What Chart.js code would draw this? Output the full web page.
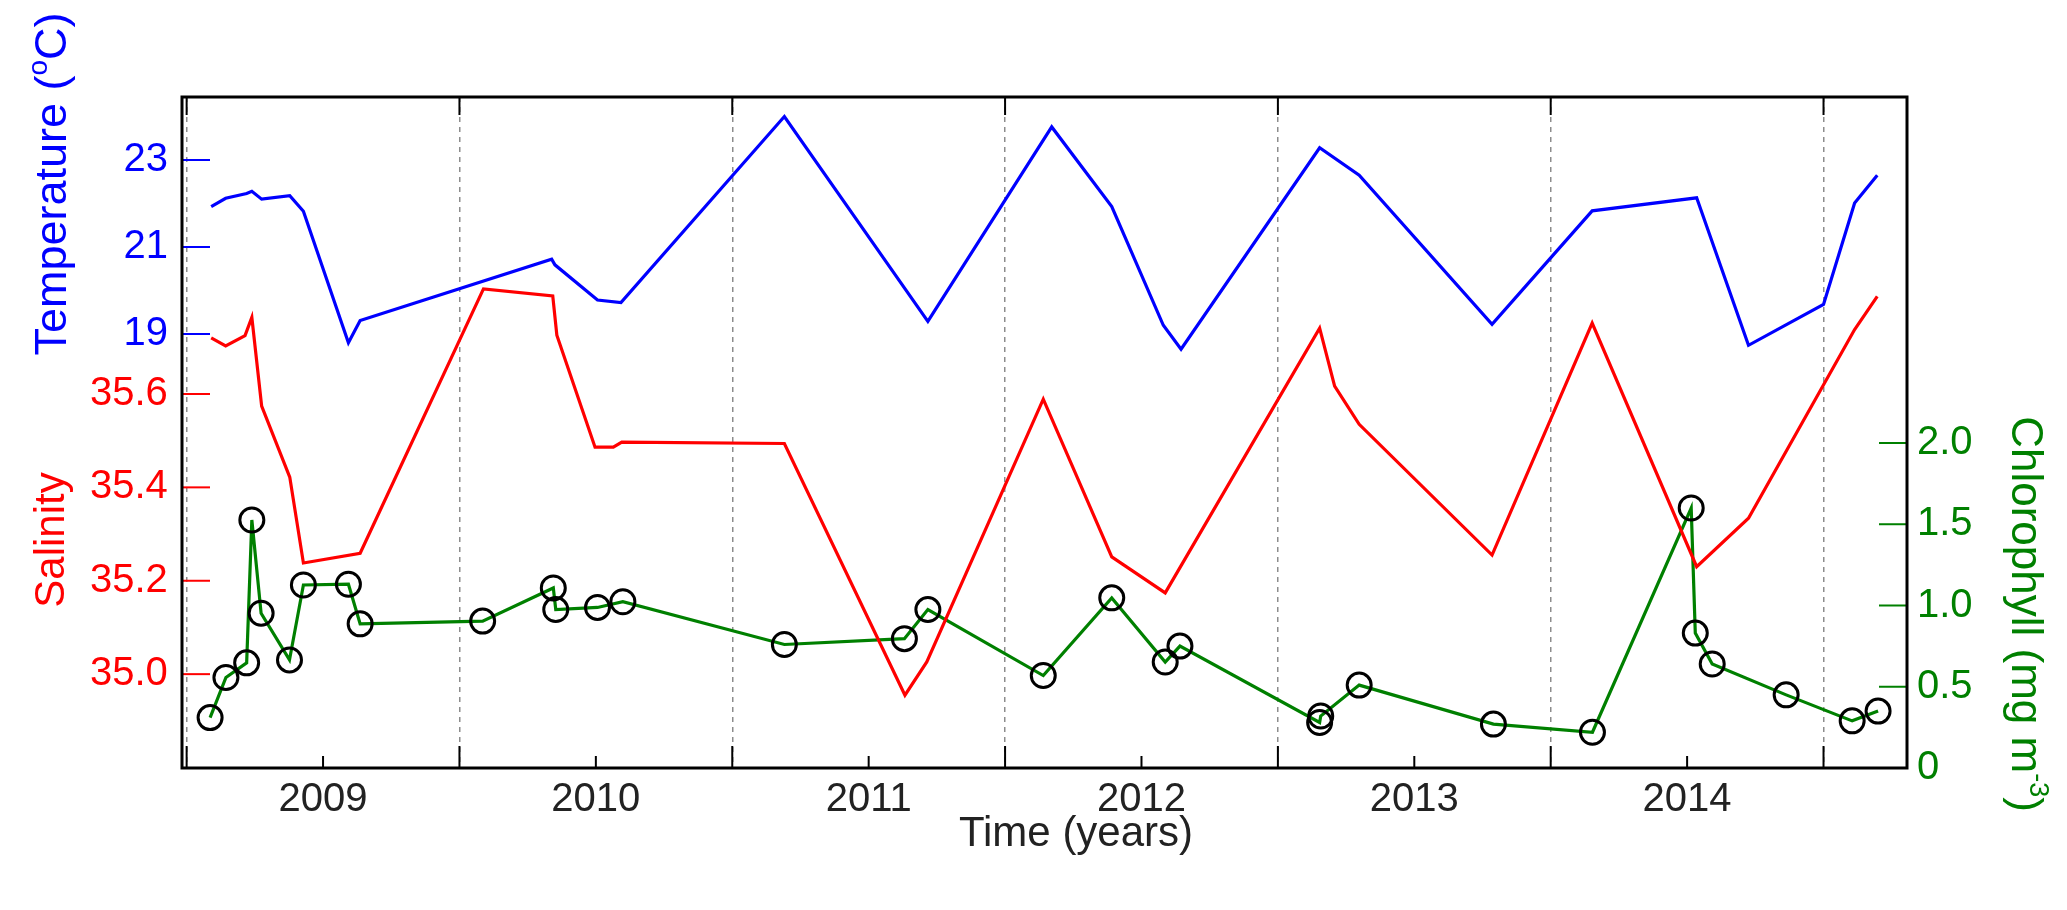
<!DOCTYPE html>
<html>
<head>
<meta charset="utf-8">
<script src="https://cdn.jsdelivr.net/npm/chart.js@4.4.0/dist/chart.umd.min.js"></script>
<style>
	html, body { margin: 0; padding: 0; background: #fff; }
	#wrap { width: 2067px; height: 910px; }
</style>
</head>
<body>
<div id="wrap"><canvas id="chart" width="2067" height="910"></canvas></div>
<script>
!(function(){
	'use strict';

	// time in decimal years
	var tempYears  = [2008.59, 2008.643, 2008.72, 2008.739, 2008.775, 2008.878, 2008.928, 2009.093, 2009.136, 2009.838, 2009.85, 2010.006, 2010.092, 2010.691, 2011.217, 2011.671, 2011.891, 2012.08, 2012.145, 2012.653, 2012.798, 2013.285, 2013.652, 2014.035, 2014.225, 2014.5, 2014.614, 2014.697];
	var tempValues = [21.93, 22.12, 22.23, 22.28, 22.10, 22.18, 21.82, 18.80, 19.31, 20.72, 20.59, 19.78, 19.72, 24.00, 19.29, 23.76, 21.93, 19.20, 18.65, 23.28, 22.65, 19.22, 21.83, 22.13, 18.74, 19.68, 22.01, 22.65];

	var salYears  = [2008.59, 2008.643, 2008.714, 2008.739, 2008.775, 2008.878, 2008.928, 2009.136, 2009.588, 2009.842, 2009.857, 2009.997, 2010.064, 2010.095, 2010.691, 2011.133, 2011.213, 2011.64, 2011.891, 2012.087, 2012.653, 2012.708, 2012.798, 2013.285, 2013.652, 2014.035, 2014.225, 2014.614, 2014.697];
	var salValues = [35.72, 35.703, 35.725, 35.764, 35.574, 35.422, 35.238, 35.259, 35.825, 35.81, 35.726, 35.486, 35.486, 35.497, 35.494, 34.955, 35.026, 35.589, 35.251, 35.174, 35.741, 35.617, 35.535, 35.255, 35.752, 35.23, 35.334, 35.738, 35.809];

	var chlYears  = [2008.586, 2008.644, 2008.72, 2008.739, 2008.773, 2008.877, 2008.928, 2009.093, 2009.136, 2009.585, 2009.844, 2009.853, 2010.006, 2010.099, 2010.691, 2011.131, 2011.217, 2011.64, 2011.891, 2012.087, 2012.141, 2012.653, 2012.657, 2012.798, 2013.29, 2013.653, 2014.015, 2014.03, 2014.092, 2014.363, 2014.605, 2014.7];
	var chlValues = [0.31, 0.557, 0.647, 1.526, 0.952, 0.665, 1.126, 1.131, 0.887, 0.904, 1.108, 0.975, 0.988, 1.023, 0.76, 0.796, 0.975, 0.569, 1.047, 0.652, 0.75, 0.28, 0.32, 0.51, 0.27, 0.22, 1.6, 0.83, 0.64, 0.45, 0.29, 0.35];

	var yearTicks = [2008.5, 2009, 2009.5, 2010, 2010.5, 2011, 2011.5, 2012, 2012.5, 2013, 2013.5, 2014, 2014.5];
	var tempTicks = [19, 21, 23];
	var salTicks  = [35.0, 35.2, 35.4, 35.6];
	var chlTicks  = [0, 0.5, 1.0, 1.5, 2.0];

	var FONT = '"Liberation Sans", Arial, Helvetica, sans-serif';
	var BLUE = '#0000ff', RED = '#ff0000', GREEN = '#008000';

	function pairs(xs, ys){
		var out = [];
		for (var i = 0; i < xs.length; i++) out.push({ x: xs[i], y: ys[i] });
		return out;
	}
	function setTicks(list){
		return function(scale){ scale.ticks = list.map(function(v){ return { value: v }; }); };
	}

	// draws a label made of normal and superscript parts, centred on 0 along x
	function richText(ctx, parts, size){
		var supSize = Math.round(size * 0.62), w = 0, i;
		for (i = 0; i < parts.length; i++) {
			ctx.font = (parts[i].sup ? supSize : size) + 'px ' + FONT;
			parts[i].w = ctx.measureText(parts[i].t).width;
			w += parts[i].w;
		}
		var x = -w / 2;
		ctx.textAlign = 'left';
		ctx.textBaseline = 'alphabetic';
		for (i = 0; i < parts.length; i++) {
			ctx.font = (parts[i].sup ? supSize : size) + 'px ' + FONT;
			ctx.fillText(parts[i].t, x, parts[i].sup ? -size * 0.42 : 0);
			x += parts[i].w;
		}
	}

	var framePlugin = {
		id: 'frame',
		afterDraw: function(chart){
			var ctx = chart.ctx, a = chart.chartArea, s = chart.scales;
			ctx.save();
			ctx.lineCap = 'butt';

			// inward tick marks
			ctx.lineWidth = 2;
			ctx.strokeStyle = BLUE;
			tempTicks.forEach(function(v){
				var y = s.yT.getPixelForValue(v);
				ctx.beginPath(); ctx.moveTo(a.left, y); ctx.lineTo(a.left + 28, y); ctx.stroke();
			});
			ctx.strokeStyle = RED;
			salTicks.forEach(function(v){
				var y = s.yS.getPixelForValue(v);
				ctx.beginPath(); ctx.moveTo(a.left, y); ctx.lineTo(a.left + 28, y); ctx.stroke();
			});
			ctx.strokeStyle = GREEN;
			chlTicks.forEach(function(v){
				if (v === 0) return;
				var y = s.yC.getPixelForValue(v);
				ctx.beginPath(); ctx.moveTo(a.right - 28, y); ctx.lineTo(a.right, y); ctx.stroke();
			});
			ctx.strokeStyle = '#000';
			yearTicks.forEach(function(v){
				var x = s.x.getPixelForValue(v);
				var half = v % 1 !== 0;
				ctx.beginPath(); ctx.moveTo(x, a.bottom); ctx.lineTo(x, a.bottom - (half ? 22 : 12)); ctx.stroke();
				if (half) { ctx.beginPath(); ctx.moveTo(x, a.top); ctx.lineTo(x, a.top + 18); ctx.stroke(); }
			});

			// box
			ctx.lineWidth = 3;
			ctx.strokeStyle = '#000';
			ctx.strokeRect(a.left, a.top, a.right - a.left, a.bottom - a.top);

			// axis titles
			ctx.fillStyle = BLUE;
			ctx.save(); ctx.translate(66, 184); ctx.rotate(-Math.PI / 2);
			richText(ctx, [{ t: 'Temperature (' }, { t: 'o', sup: true }, { t: 'C)' }], 45);
			ctx.restore();

			ctx.fillStyle = RED;
			ctx.save(); ctx.translate(64, 540); ctx.rotate(-Math.PI / 2);
			richText(ctx, [{ t: 'Salinity' }], 42);
			ctx.restore();

			ctx.fillStyle = GREEN;
			ctx.save(); ctx.translate(2012, 614); ctx.rotate(Math.PI / 2);
			richText(ctx, [{ t: 'Chlorophyll (mg m' }, { t: '-3', sup: true }, { t: ')' }], 44);
			ctx.restore();

			ctx.fillStyle = '#222';
			ctx.save(); ctx.translate(1076, 846);
			richText(ctx, [{ t: 'Time (years)' }], 42);
			ctx.restore();

			ctx.restore();
		}
	};

	var tickFont = { family: FONT, size: 40 };

	new Chart(document.getElementById('chart').getContext('2d'), {
		type: 'line',
		data: {
			datasets: [{
				label: 'Temperature',
				data: pairs(tempYears, tempValues),
				yAxisID: 'yT',
				borderColor: BLUE,
				borderWidth: 3.2,
				pointRadius: 0,
				tension: 0
			}, {
				label: 'Salinity',
				data: pairs(salYears, salValues),
				yAxisID: 'yS',
				borderColor: RED,
				borderWidth: 3.2,
				pointRadius: 0,
				tension: 0
			}, {
				label: 'Chlorophyll',
				data: pairs(chlYears, chlValues),
				yAxisID: 'yC',
				borderColor: GREEN,
				borderWidth: 3.2,
				pointRadius: 12,
				pointBorderWidth: 3,
				pointBorderColor: '#000',
				pointBackgroundColor: 'rgba(0,0,0,0)',
				tension: 0
			}]
		},
		options: {
			responsive: false,
			animation: false,
			devicePixelRatio: 1,
			layout: { padding: { top: 97, left: 0, right: 0, bottom: 0 } },
			plugins: { legend: { display: false }, tooltip: { enabled: false } },
			scales: {
				x: {
					type: 'linear',
					min: 2008.483,
					max: 2014.806,
					afterBuildTicks: setTicks(yearTicks),
					afterFit: function(s){ s.height = 142; },
					grid: {
						drawTicks: false,
						lineWidth: 1.5,
						color: function(c){ return (c.tick && c.tick.value % 1 !== 0) ? '#8c8c8c' : 'rgba(0,0,0,0)'; }
					},
					border: { display: false, dash: [5, 5] },
					ticks: {
						color: '#222',
						font: tickFont,
						padding: 8,
						maxRotation: 0,
						autoSkip: false,
						callback: function(v){ return v % 1 === 0 ? String(v) : ''; }
					}
				},
				yT: {
					position: 'left',
					weight: 1,
					min: 9.023,
					max: 24.448,
					afterBuildTicks: setTicks(tempTicks),
					afterFit: function(s){ s.width = 182; },
					grid: { drawOnChartArea: false, drawTicks: false },
					border: { display: false },
					ticks: { color: BLUE, font: tickFont, padding: 14, callback: function(v){ return String(v); } }
				},
				yS: {
					// zero-width axis sharing the left column; mirrored so its labels are not clipped
					position: 'left',
					weight: 0,
					min: 34.799,
					max: 36.236,
					afterBuildTicks: setTicks(salTicks),
					afterFit: function(s){ s.width = 0; },
					grid: { drawOnChartArea: false, drawTicks: false },
					border: { display: false },
					ticks: { color: RED, font: tickFont, mirror: true, crossAlign: 'near', padding: -92, callback: function(v){ return v.toFixed(1); } }
				},
				yC: {
					position: 'right',
					min: 0,
					max: 4.129,
					afterBuildTicks: setTicks(chlTicks),
					afterFit: function(s){ s.width = 160; },
					grid: { drawOnChartArea: false, drawTicks: false },
					border: { display: false },
					ticks: { color: GREEN, font: tickFont, padding: 10, callback: function(v){ return v === 0 ? '0' : v.toFixed(1); } }
				}
			}
		},
		plugins: [framePlugin]
	});
})();
</script>
</body>
</html>
